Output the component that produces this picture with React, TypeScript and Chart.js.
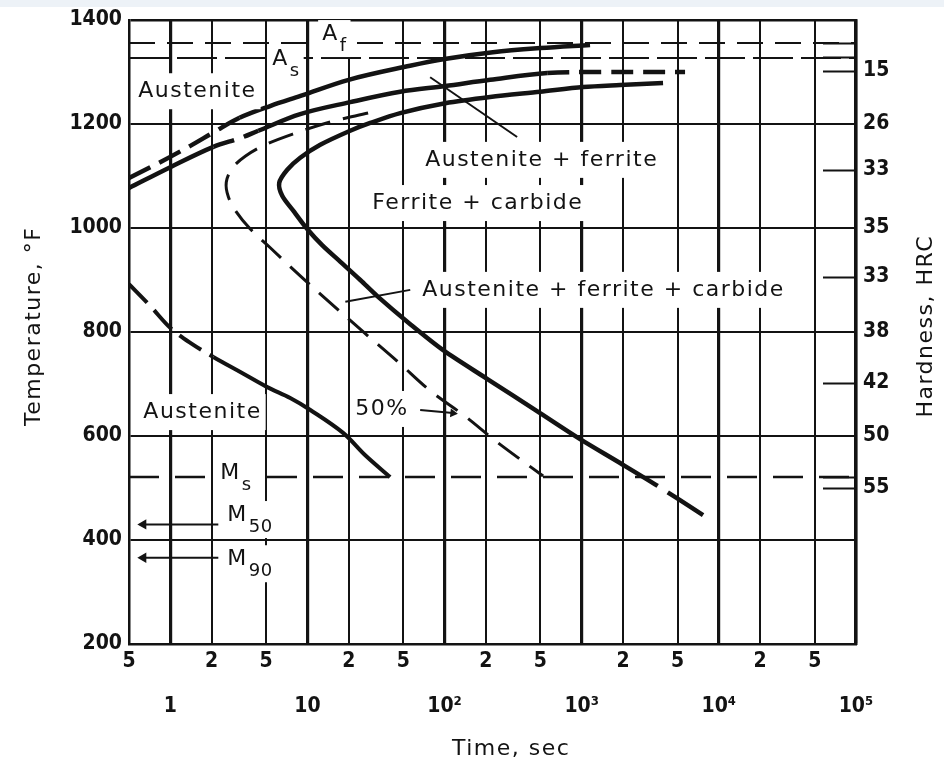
import React, { useEffect, useRef } from 'react';
import { Chart, registerables } from 'chart.js';

Chart.register(...registerables);

const INK = '#131313';
const SANS = '"DejaVu Sans", "Liberation Sans", sans-serif';
const NUM = '"DejaVu Sans Condensed", "DejaVu Sans", sans-serif';

// Time axis, seconds (logarithmic)
const TIME_MIN = 0.5;
const TIME_MAX = 100000;
const TIME_TICKS = [0.5, 1, 2, 5, 10, 20, 50, 100, 200, 500, 1000, 2000, 5000, 10000, 20000, 50000, 100000];
const TIME_UPPER = ['5', '', '2', '5', '', '2', '5', '', '2', '5', '', '2', '5', '', '2', '5', ''];
const TIME_LOWER = ['', '1', '', '', '10', '', '', '10²', '', '', '10³', '', '', '10⁴', '', '', '10⁵'];

// Temperature axis, °F
const TEMP_MIN = 200;
const TEMP_MAX = 1400;
const TEMP_TICKS = [200, 400, 600, 800, 1000, 1200, 1400];
const TEMP_TITLE_AT = 811;

// Hardness after transformation, HRC, placed at the transformation temperature
const HRC_TEMPS = [1302, 1200, 1112, 1000, 906, 800, 702, 600, 500];
const HRC_LABELS = ['15', '26', '33', '35', '33', '38', '42', '50', '55'];
const HRC_MARKS = [1356, 1329, 1302, 1112, 906, 702, 521, 500];

// Critical temperatures, °F
const A_F = 1356;
const A_S = 1327;
const M_S = 521;
const M_50 = 430;
const M_90 = 366;

// Start of ferrite formation
const FERRITE_TIME = [0.5, 0.85, 1.4, 2.1, 3.2, 5.4, 8.9, 20, 56, 100, 225, 500, 1150];
const FERRITE_TEMP = [1096, 1127, 1158, 1185, 1212, 1235, 1254, 1285, 1312, 1325, 1338, 1346, 1352];
const FERRITE_DASH = [1, 1, 1, 1, 0, 0, 0, 0, 0, 0, 0, 0];

// Start of carbide formation
const CARBIDE_TIME = [0.5, 1.0, 2.06, 3.24, 4.38, 8.86, 20.5, 47.5, 101, 215, 560, 1362, 5670];
const CARBIDE_TEMP = [1077, 1117, 1156, 1173, 1187, 1219, 1242, 1262, 1273, 1285, 1298, 1300, 1300];
const CARBIDE_DASH = [0, 0, 1, 1, 0, 0, 0, 0, 0, 0, 1, 1];

// End of transformation (C curve)
const FINISH_TIME = [3918, 1905, 1023, 497, 215, 101, 47.5, 28.7, 20.5, 12.4, 8.86, 7.13, 6.23, 6.55, 8.01, 9.97, 12.8, 17.4, 24.3, 32.3, 56.2, 97.7, 204, 497, 973, 1905, 3580, 7670];
const FINISH_TEMP = [1279, 1275, 1271, 1262, 1252, 1240, 1221, 1202, 1187, 1160, 1135, 1112, 1087, 1062, 1031, 998, 967, 935, 900, 869, 815, 765, 710, 644, 594, 548, 504, 448];
const FINISH_DASH = [0, 0, 0, 0, 0, 0, 0, 0, 0, 0, 0, 0, 0, 0, 0, 0, 0, 0, 0, 0, 0, 0, 0, 0, 0, 0, 1];

// 50 % transformed
const HALF_TIME = [27.7, 14.7, 7.88, 4.92, 3.52, 2.83, 2.56, 2.65, 3.03, 3.83, 5.36, 8.86, 14.4, 25.1, 45.1, 78.5, 141, 242, 523];
const HALF_TEMP = [1221, 1204, 1181, 1160, 1138, 1115, 1088, 1060, 1031, 998, 962, 908, 858, 802, 744, 687, 638, 588, 523];

// Start of the low-temperature reaction
const LOWER_TIME = [0.5, 0.715, 1, 1.4, 2.06, 3.24, 5.09, 7.49, 10.5, 18.2, 26.4, 40.1];
const LOWER_TEMP = [892, 850, 808, 779, 752, 723, 694, 673, 650, 606, 563, 521];
const LOWER_DASH = [1, 1, 1, 1, 0, 0, 0, 0, 0, 0, 0];

// Leader lines from the field labels
const LEAD_AF_TIME = [78.5, 338];
const LEAD_AF_TEMP = [1290, 1175];
const LEAD_AFC_TIME = [56.2, 18.9];
const LEAD_AFC_TEMP = [881, 858];
const LEAD_HALF_TIME = [66.4, 115];
const LEAD_HALF_TEMP = [650, 644];
const M_ARROW_TIME = [0.636, 2.24];

type Note = { text: string; sub?: string; t: number; temp: number };
const NOTES: Note[] = [
  { text: 'Austenite', t: 0.584, temp: 1263 },
  { text: 'A', sub: 'f', t: 12.8, temp: 1373 },
  { text: 'A', sub: 's', t: 5.54, temp: 1325 },
  { text: 'Austenite + ferrite', t: 72.2, temp: 1131 },
  { text: 'Ferrite + carbide', t: 29.7, temp: 1048 },
  { text: 'Austenite + ferrite + carbide', t: 68.7, temp: 881 },
  { text: 'Austenite', t: 0.636, temp: 646 },
  { text: '50%', t: 22.3, temp: 652 },
  { text: 'M', sub: 's', t: 2.31, temp: 529 },
  { text: 'M', sub: '50', t: 2.6, temp: 448 },
  { text: 'M', sub: '90', t: 2.6, temp: 363 },
];

const pts = (times: number[], temps: number[]) => times.map((t, i) => ({ x: t, y: temps[i] }));

const dashBy = (flags: number[], dash: number[]) => ({
  borderDash: (c: any) => (flags[c.p0DataIndex] ? dash : undefined),
});

const isDecade = (v: number) => v >= 1 && Math.abs(Math.log10(v) - Math.round(Math.log10(v))) < 1e-6;

function line(data: { x: number; y: number }[], width: number, extra: Record<string, unknown> = {}) {
  return {
    data,
    borderColor: INK,
    backgroundColor: INK,
    borderWidth: width,
    pointRadius: 0,
    tension: 0.35,
    fill: false,
    borderCapStyle: 'butt',
    borderJoinStyle: 'round',
    ...extra,
  };
}

const decor = {
  id: 'decor',
  beforeDraw(chart: any) {
    const { ctx, width, height } = chart;
    ctx.save();
    ctx.fillStyle = '#ffffff';
    ctx.fillRect(0, 0, width, height);
    ctx.fillStyle = '#edf2f7';
    ctx.fillRect(0, 0, width, 7);
    ctx.restore();
  },
  afterDatasetsDraw(chart: any) {
    const { ctx, chartArea, scales } = chart;
    const xs = scales.x;
    const ys = scales.y;
    ctx.save();
    // short hardness marks inside the right border
    ctx.strokeStyle = INK;
    ctx.lineWidth = 2;
    HRC_MARKS.forEach((v) => {
      const py = Math.round(ys.getPixelForValue(v)) + 0.5;
      ctx.beginPath();
      ctx.moveTo(chartArea.right - 33, py);
      ctx.lineTo(chartArea.right, py);
      ctx.stroke();
    });
    // field labels on white ground
    ctx.textBaseline = 'middle';
    ctx.textAlign = 'left';
    NOTES.forEach((n) => {
      const px = xs.getPixelForValue(n.t);
      const py = ys.getPixelForValue(n.temp);
      (ctx as any).letterSpacing = '1.5px';
      ctx.font = `22px ${SANS}`;
      const w1 = ctx.measureText(n.text).width;
      let w = w1;
      if (n.sub) {
        ctx.font = `18px ${SANS}`;
        (ctx as any).letterSpacing = '0.5px';
        w += ctx.measureText(n.sub).width + 1;
      }
      const padY = n.sub ? 2 : 6;
      const top = py - 12 - padY;
      const h = 24 + 2 * padY + (n.sub ? 9 : 0);
      ctx.fillStyle = '#ffffff';
      ctx.fillRect(px - 4, top, w + 8, h);
      ctx.fillStyle = INK;
      (ctx as any).letterSpacing = '1.5px';
      ctx.font = `22px ${SANS}`;
      ctx.fillText(n.text, px, py);
      if (n.sub) {
        ctx.font = `18px ${SANS}`;
        (ctx as any).letterSpacing = '0.5px';
        ctx.fillText(n.sub, px + w1 + 1, py + 12);
      }
    });
    ctx.restore();
  },
  afterDraw(chart: any) {
    const { ctx, scales } = chart;
    const xs = scales.x;
    const ys = scales.y;
    ctx.save();
    ctx.fillStyle = INK;
    ctx.font = `22px ${SANS}`;
    (ctx as any).letterSpacing = '1.5px';
    ctx.textAlign = 'center';
    ctx.textBaseline = 'middle';
    // axis titles
    ctx.fillText('Time, sec', xs.getPixelForValue(306), 749);
    const midY = ys.getPixelForValue(TEMP_TITLE_AT);
    ctx.save();
    ctx.translate(34, midY);
    ctx.rotate(-Math.PI / 2);
    ctx.fillText('Temperature, °F', 0, 0);
    ctx.restore();
    ctx.save();
    ctx.translate(926, midY);
    ctx.rotate(-Math.PI / 2);
    ctx.fillText('Hardness, HRC', 0, 0);
    ctx.restore();
    ctx.restore();
  },
};

export default function App() {
  const ref = useRef<HTMLCanvasElement>(null);

  useEffect(() => {
    const canvas = ref.current;
    if (!canvas) return;

    const arrow = (rot: number, radius: number[]) => ({
      tension: 0,
      pointStyle: 'triangle',
      pointRadius: radius,
      pointRotation: rot,
      pointBorderWidth: 0,
      pointBackgroundColor: INK,
    });

    const datasets: any[] = [
      line(pts(FERRITE_TIME, FERRITE_TEMP), 4.5, { segment: dashBy(FERRITE_DASH, [24, 10]) }),
      line(pts(CARBIDE_TIME, CARBIDE_TEMP), 4.5, { segment: dashBy(CARBIDE_DASH, [22, 10]) }),
      line(pts(FINISH_TIME, FINISH_TEMP), 4.5, { tension: 0.3, segment: dashBy(FINISH_DASH, [0, 12, 80]) }),
      line(pts(HALF_TIME, HALF_TEMP), 3, { borderDash: [26, 13] }),
      line(pts(LOWER_TIME, LOWER_TEMP), 4, { segment: dashBy(LOWER_DASH, [26, 10]) }),
      line(pts(LEAD_AF_TIME, LEAD_AF_TEMP), 2, { tension: 0 }),
      line(pts(LEAD_AFC_TIME, LEAD_AFC_TEMP), 2, { tension: 0 }),
      line(pts(LEAD_HALF_TIME, LEAD_HALF_TEMP), 2, arrow(96, [0, 5])),
      line(pts(M_ARROW_TIME, [M_50, M_50]), 2, arrow(-90, [6, 0])),
      line(pts(M_ARROW_TIME, [M_90, M_90]), 2, arrow(-90, [6, 0])),
      line(pts([TIME_MIN, TIME_MAX], [M_S, M_S]), 2.5, { tension: 0, borderDash: [30, 16] }),
      line(pts([TIME_MIN, TIME_MAX], [A_F, A_F]), 2, { tension: 0, borderDash: [26, 12] }),
      line(pts([TIME_MIN, TIME_MAX], [A_S, A_S]), 2, { tension: 0, borderDash: [40, 8] }),
    ];

    const tickFont = { family: NUM, size: 21, weight: 'bold' as const };

    const chart = new Chart(canvas, {
      type: 'line',
      data: { datasets },
      plugins: [decor],
      options: {
        animation: false,
        responsive: false,
        devicePixelRatio: 1,
        events: [],
        layout: { padding: { left: 0, right: 0, top: 20, bottom: 2 } },
        plugins: { legend: { display: false }, tooltip: { enabled: false } },
        scales: {
          x: {
            type: 'logarithmic',
            min: TIME_MIN,
            max: TIME_MAX,
            afterBuildTicks: (s: any) => {
              s.ticks = TIME_TICKS.map((v) => ({ value: v }));
            },
            afterFit: (s: any) => {
              s.height = 118;
            },
            grid: {
              color: INK,
              lineWidth: (c: any) => (c.tick && isDecade(c.tick.value) ? 3.2 : 2),
              drawTicks: false,
            },
            border: { display: true, color: INK, width: 2.5 },
            ticks: {
              autoSkip: false,
              maxRotation: 0,
              minRotation: 0,
              padding: 6,
              color: INK,
              font: { ...tickFont, lineHeight: '22.5px' },
              callback: (_v: any, i: number) => [TIME_UPPER[i], '', TIME_LOWER[i]],
            },
          },
          y: {
            type: 'linear',
            min: TEMP_MIN,
            max: TEMP_MAX,
            afterBuildTicks: (s: any) => {
              s.ticks = TEMP_TICKS.map((v) => ({ value: v }));
            },
            afterFit: (s: any) => {
              s.width = 129;
            },
            grid: {
              color: INK,
              lineWidth: (c: any) => (c.tick && c.tick.value === TEMP_MAX ? 2.5 : 2),
              drawTicks: false,
            },
            border: { display: true, color: INK, width: 2.5 },
            ticks: { padding: 7, color: INK, font: tickFont, callback: (v: any) => String(v) },
          },
          y2: {
            type: 'linear',
            position: 'right',
            min: TEMP_MIN,
            max: TEMP_MAX,
            afterBuildTicks: (s: any) => {
              s.ticks = HRC_TEMPS.map((v) => ({ value: v }));
            },
            afterFit: (s: any) => {
              s.width = 88;
            },
            grid: { display: false, drawTicks: false },
            border: { display: true, color: INK, width: 2.5 },
            ticks: { padding: 7, color: INK, font: tickFont, callback: (_v: any, i: number) => HRC_LABELS[i] },
          },
        },
      } as any,
    });

    return () => chart.destroy();
  }, []);

  return (
    <div style={{ position: 'absolute', left: 0, top: 0, width: 944, height: 764, background: '#ffffff' }}>
      <canvas ref={ref} width={944} height={764} style={{ display: 'block', width: 944, height: 764 }} />
    </div>
  );
}
